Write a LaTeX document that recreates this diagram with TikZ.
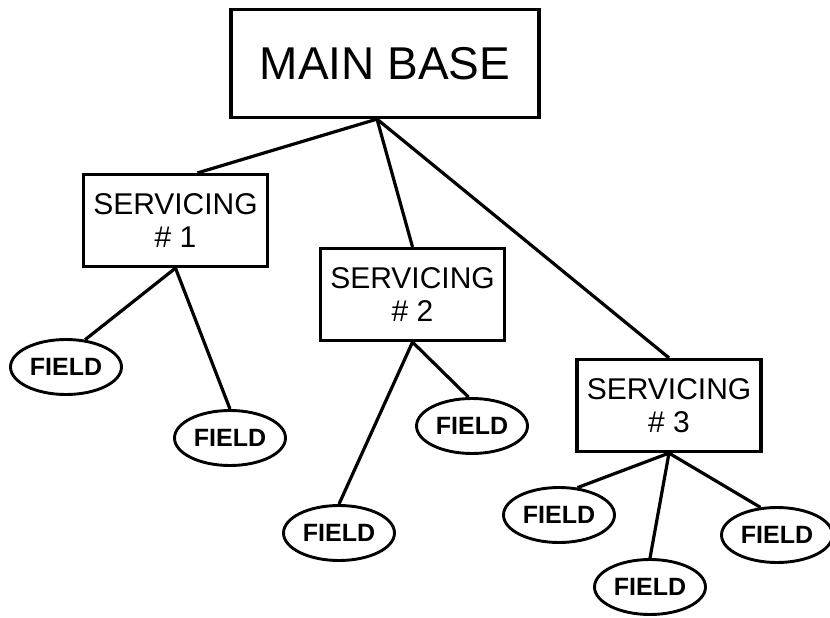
\documentclass[tikz,border=0pt]{standalone}
\usepackage{fontspec}
\setmainfont{Liberation Sans}
\usetikzlibrary{shapes.geometric}
\newcommand{\link}[2]{\draw[line width=3.2pt] (#1)--(#2);}

\begin{document}
\begin{tikzpicture}[x=1pt,y=-1pt,
  base/.style={draw,line width=3.2pt,minimum width=308pt,minimum height=108pt,
    inner sep=0pt,font=\fontsize{46}{50}\selectfont},
  serv/.style={draw,line width=3.2pt,minimum width=184pt,minimum height=92pt,
    inner sep=0pt,align=center,font=\fontsize{30}{33}\selectfont},
  field/.style={draw,ellipse,line width=2.9pt,minimum width=111pt,minimum height=55pt,
    inner sep=0pt,font=\bfseries\fontsize{25}{26}\selectfont}]
  \useasboundingbox (0,0) rectangle (830,618);

  \node[base] (main) at (385,63.5) {MAIN BASE};
  % servicing stations
  \node[serv] (s1) at (175.5,220.5) {SERVICING\\\# 1};
  \node[serv] (s2) at (412.5,294.5) {SERVICING\\\# 2};
  \node[serv] (s3) at (669,405.5)   {SERVICING\\\# 3};
  % fields
  \node[field] (f1) at (66,367)  {FIELD};
  \node[field] (f2) at (230,438) {FIELD};
  \node[field] (f3) at (472,426) {FIELD};
  \node[field] (f4) at (339,533) {FIELD};
  \node[field] (f5) at (559,515) {FIELD};
  \node[field] (f6) at (650,587) {FIELD};
  \node[field] (f7) at (777,535) {FIELD};

  \coordinate (mb) at ([xshift=-8pt]main.south);
  \coordinate (t1) at ([xshift=22pt]s1.north);

  % main base to servicing
  \link{mb}{t1}\link{mb}{s2.north}\link{mb}{s3.north}
  % servicing to fields
  \link{s1.south}{f1.55}\link{s1.south}{f2.north}
  \link{s2.south}{f3.97}\link{s2.south}{f4.north}
  \link{s3.south}{f5.56}\link{s3.south}{f6.north}\link{s3.south}{f7.121}
\end{tikzpicture}
\end{document}
